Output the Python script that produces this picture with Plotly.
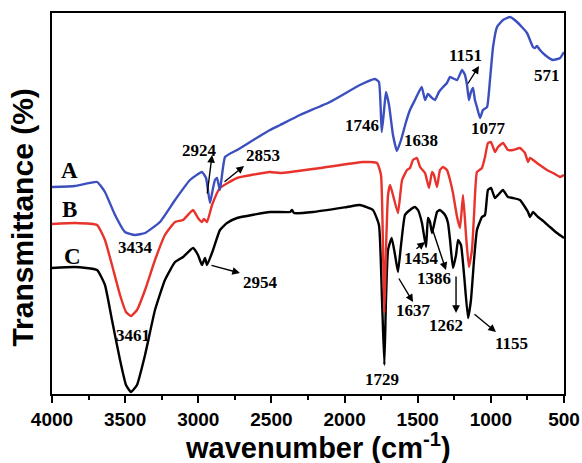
import plotly.graph_objects as go

# ---------------- data ----------------
wn_A = [4000, 3843, 3692, 3638, 3569, 3501, 3433, 3364, 3262, 3159, 3057, 2975, 2947, 2920,
        2899, 2886, 2872, 2852, 2817, 2735, 2510, 2441, 2305, 2100, 1895, 1792, 1765, 1746,
        1730, 1717, 1696, 1669, 1642, 1614, 1580, 1553, 1519, 1473, 1450, 1430, 1409, 1382,
        1355, 1327, 1300, 1279, 1231, 1197, 1177, 1163, 1150, 1136, 1122, 1109, 1095, 1074,
        1054, 1026, 1006, 985, 958, 917, 869, 821, 753, 712, 698, 685, 664, 630, 576, 527, 500]
T_A = [207, 208, 212, 202, 179, 162, 159, 161, 172, 194, 214, 222, 216, 191,
       206, 214, 216, 204, 237, 244, 264, 269, 279, 292, 309, 315, 312, 262,
       284, 302, 289, 259, 243, 254, 272, 284, 294, 307, 294, 300, 297, 294,
       302, 307, 311, 317, 314, 324, 319, 309, 294, 302, 306, 294, 287, 276,
       284, 287, 314, 347, 367, 374, 377, 372, 361, 347, 346, 348, 344, 339, 334, 336, 342]

wn_B = [4000, 3843, 3692, 3638, 3590, 3535, 3494, 3460, 3419, 3364, 3296, 3228, 3159, 3104,
        3036, 3002, 2975, 2961, 2940, 2906, 2852, 2735, 2510, 2441, 2168, 1874, 1778, 1751,
        1737, 1728, 1717, 1703, 1689, 1669, 1635, 1607, 1573, 1553, 1532, 1505, 1484, 1450,
        1423, 1402, 1389, 1368, 1348, 1327, 1300, 1279, 1259, 1231, 1211, 1190, 1170, 1150,
        1129, 1115, 1095, 1061, 1040, 1020, 999, 972, 951, 917, 883, 849, 801, 767, 746, 732,
        685, 616, 575, 527, 500]
T_B = [170, 171, 169, 154, 129, 99, 82, 78, 84, 104, 134, 159, 172, 174,
       184, 176, 172, 175, 172, 189, 206, 216, 222, 221, 226, 232, 231, 219,
       144, 81, 144, 199, 209, 199, 181, 214, 224, 226, 234, 236, 227, 221,
       206, 222, 219, 207, 224, 227, 224, 214, 201, 177, 166, 199, 159, 127,
       144, 179, 222, 226, 237, 251, 252, 242, 247, 251, 244, 244, 246, 241, 232, 236,
       231, 224, 221, 217, 219]

wn_C = [4000, 3843, 3692, 3638, 3590, 3535, 3494, 3460, 3419, 3364, 3296, 3228, 3159, 3104,
        3036, 3002, 2975, 2954, 2940, 2899, 2852, 2804, 2735, 2510, 2373, 2359, 2346, 2216,
        1983, 1895, 1806, 1765, 1744, 1728, 1717, 1703, 1678, 1655, 1635, 1614, 1587, 1553,
        1519, 1498, 1471, 1443, 1430, 1416, 1402, 1368, 1348, 1313, 1293, 1279, 1259, 1238,
        1224, 1204, 1183, 1156, 1136, 1115, 1095, 1061, 1040, 1020, 999, 972, 951, 917, 883,
        849, 801, 767, 746, 732, 712, 678, 650, 596, 548, 500]
T_C = [126, 127, 124, 109, 74, 34, 9, 2, 9, 39, 84, 114, 132, 137,
       146, 139, 129, 136, 129, 144, 164, 171, 176, 182, 182, 184, 181, 182,
       187, 189, 184, 169, 94, 29, 94, 144, 156, 139, 122, 149, 179, 184,
       187, 184, 171, 147, 176, 172, 161, 182, 184, 179, 171, 154, 126, 139,
       154, 149, 119, 76, 94, 134, 164, 177, 179, 204, 206, 196, 199, 204, 197,
       196, 194, 187, 182, 177, 182, 177, 174, 167, 161, 156]

x_ticks = [4000, 3500, 3000, 2500, 2000, 1500, 1000, 500]

series_names = ["A", "B", "C"]
series_colors = ["#3b4fbf", "#e8322c", "#000000"]

# ---------------- figure ----------------
fig = go.Figure()
for wn, T, name, col in [(wn_C, T_C, "C", series_colors[2]),
                         (wn_B, T_B, "B", series_colors[1]),
                         (wn_A, T_A, "A", series_colors[0])]:
    fig.add_trace(go.Scatter(x=wn, y=T, mode="lines", name=name,
                             line=dict(color=col, width=2.4, shape="spline", smoothing=0.4),
                             showlegend=False))

serif = "Liberation Serif, Times New Roman, serif"
sans = "Liberation Sans, Arial, sans-serif"

ann = []
# curve letters
for txt, x, y in [("A", 3877, 224), ("B", 3877, 185), ("C", 3863, 138)]:
    ann.append(dict(x=x, y=y, text=f"<b>{txt}</b>", showarrow=False,
                    font=dict(family=serif, size=23, color="black")))

# peak labels
labels = [("2924", 2995, 244), ("2853", 2558, 239), ("3434", 3426, 147), ("3461", 3446, 59),
          ("2954", 2578, 112), ("1746", 1881, 269), ("1638", 1478, 254), ("1151", 1170, 339),
          ("1077", 1013, 266), ("571", 616, 319), ("1454", 1471, 136), ("1386", 1389, 116),
          ("1637", 1532, 84), ("1262", 1307, 69), ("1155", 856, 51), ("1729", 1744, 15)]
for txt, x, y in labels:
    ann.append(dict(x=x, y=y, text=f"<b>{txt}</b>", showarrow=False,
                    font=dict(family=serif, size=17, color="black")))

# arrows: (head x, head y, tail x, tail y)
arrows = [(2906, 239, 2940, 199), (2687, 228, 2831, 211), (2715, 121, 2920, 129),
          (1081, 328, 1163, 309), (1450, 152, 1519, 144), (1307, 124, 1402, 166),
          (1532, 92, 1635, 117), (1238, 81, 1238, 119), (965, 62, 1122, 81)]
for hx, hy, tx, ty in arrows:
    ann.append(dict(x=hx, y=hy, ax=tx, ay=ty, axref="x", ayref="y", text="",
                    showarrow=True, arrowhead=2, arrowsize=1.1, arrowwidth=1.4,
                    arrowcolor="black"))

# axis titles
ann.append(dict(xref="paper", yref="paper", x=0, y=0.463, xshift=-29,
                text="<b>Transmittance (%)</b>", textangle=-90, showarrow=False,
                xanchor="center", yanchor="middle",
                font=dict(family=sans, size=30, color="black")))
ann.append(dict(xref="paper", yref="paper", x=0.52, y=0, yshift=-52,
                text="<b>wavenumber (cm<sup>-1</sup>)</b>", showarrow=False,
                xanchor="center", yanchor="middle",
                font=dict(family=sans, size=29, color="black")))

fig.update_layout(
    width=582, height=463,
    margin=dict(l=52, r=18, t=13, b=69),
    paper_bgcolor="white", plot_bgcolor="white",
    annotations=ann,
)
fig.update_xaxes(range=[4000, 500], tickvals=x_ticks,
                 ticktext=[f"<b>{v}</b>" for v in x_ticks],
                 tickfont=dict(family=sans, size=19, color="black"),
                 ticks="outside", ticklen=7, tickwidth=2, tickcolor="black",
                 minor=dict(dtick=250, tick0=0, ticks="outside", ticklen=4, tickwidth=2, tickcolor="black"),
                 showline=True, linewidth=2, linecolor="black", mirror=True,
                 showgrid=False, zeroline=False, automargin=False)
fig.update_yaxes(range=[0, 381], showticklabels=False, ticks="",
                 showline=True, linewidth=2, linecolor="black", mirror=True,
                 showgrid=False, zeroline=False, automargin=False)

fig.write_html("out.html", config={"displayModeBar": False},
               post_script="document.body.style.margin='0px';")
